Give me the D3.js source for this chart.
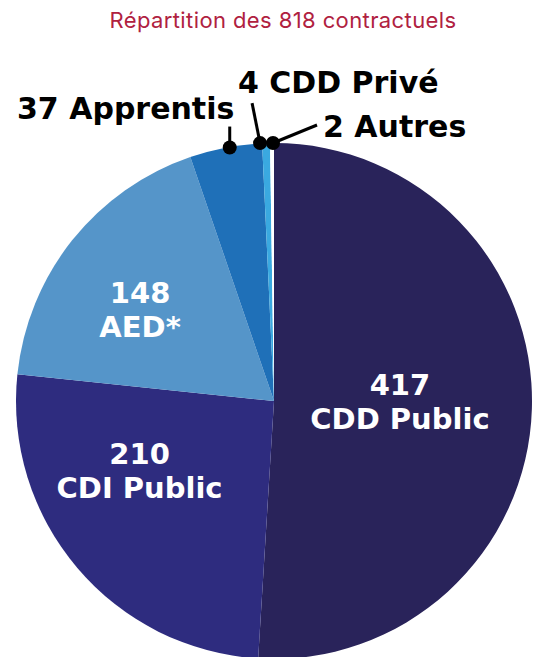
<!DOCTYPE html>
<html>
<head>
<meta charset="utf-8">
<script src="https://cdn.jsdelivr.net/npm/d3@7"></script>
<style>
  html, body { margin: 0; padding: 0; background: #fff; }
  svg { display: block; }
</style>
</head>
<body>
<div id="chart"></div>
<script>
// contract types and headcounts (total 818)
var categories = ["CDD Public", "CDI Public", "AED*", "Apprentis", "CDD Privé", "Autres"];
var counts = [417, 210, 148, 37, 4, 2];
var colors = ["#29235a", "#2e2c7f", "#5595c9", "#1f70b8", "#3aa9e0", "#ffffff"];
var title = "Répartition des 818 contractuels";

var width = 534, height = 657;
var cx = 274, cy = 401, radius = 258;
var boldFont = "'DejaVu Sans', sans-serif";

var data = categories.map(function (c, i) {
  return { name: c, value: counts[i], color: colors[i], inside: counts[i] > 100 };
});

var svg = d3.select("#chart")
  .append("svg")
  .attr("width", width)
  .attr("height", height);

svg.append("text")
  .attr("x", 283)
  .attr("y", 28)
  .attr("text-anchor", "middle")
  .attr("fill", "#b0213f")
  .style("font-family", "Inter, sans-serif")
  .style("font-size", "22px")
  .style("letter-spacing", "0.4px")
  .text(title);

var pie = d3.pie().sort(null).value(function (d) { return d.value; });
var arcs = pie(data);

var arc = d3.arc().innerRadius(0).outerRadius(radius);

var g = svg.append("g").attr("transform", "translate(" + cx + "," + cy + ")");

g.selectAll("path")
  .data(arcs)
  .enter()
  .append("path")
  .attr("d", arc)
  .attr("fill", function (d) { return d.data.color; });

// inside labels: number + name, white bold
var labelArc = d3.arc().innerRadius(radius * 0.5).outerRadius(radius * 0.5);
var insideOffsets = { "CDD Public": [-3, 7], "CDI Public": [-36, -3], "AED*": [-33, -1] };

var inside = g.selectAll("text.inside")
  .data(arcs.filter(function (d) { return d.data.inside; }))
  .enter()
  .append("text")
  .attr("class", "inside")
  .attr("text-anchor", "middle")
  .attr("fill", "#fff")
  .style("font-family", boldFont)
  .style("font-weight", 700)
  .style("font-size", "29px")
  .attr("transform", function (d) {
    var c = labelArc.centroid(d), off = insideOffsets[d.data.name];
    return "translate(" + (c[0] + off[0]) + "," + (c[1] + off[1]) + ")";
  });

inside.append("tspan")
  .attr("x", 0)
  .attr("y", -17)
  .text(function (d) { return d.data.value; });

inside.append("tspan")
  .attr("x", 0)
  .attr("y", 17)
  .text(function (d) { return d.data.name; });

// outside labels with dots and leader lines
var edgeArc = d3.arc().innerRadius(radius).outerRadius(radius);
var outside = {
  "Apprentis": { dot: [4, 0], end: [0, -21], label: [17, 119] },
  "CDD Privé": { dot: [-6, 0], end: [-8, -40], label: [238, 93] },
  "Autres":    { dot: [1, 0], end: [44, -18], label: [323, 137] }
};

arcs.filter(function (d) { return !d.data.inside; }).forEach(function (d) {
  var o = outside[d.data.name];
  var c = edgeArc.centroid(d);
  var px = c[0] + o.dot[0], py = c[1] + o.dot[1];
  g.append("line")
    .attr("x1", px).attr("y1", py)
    .attr("x2", px + o.end[0]).attr("y2", py + o.end[1])
    .attr("stroke", "#000")
    .attr("stroke-width", 3);
  g.append("circle")
    .attr("cx", px).attr("cy", py)
    .attr("r", 7)
    .attr("fill", "#000");
  svg.append("text")
    .attr("x", o.label[0])
    .attr("y", o.label[1])
    .attr("fill", "#000")
    .style("font-family", boldFont)
    .style("font-weight", 700)
    .style("font-size", "30px")
    .text(d.data.value + " " + d.data.name);
});
</script>
</body>
</html>
